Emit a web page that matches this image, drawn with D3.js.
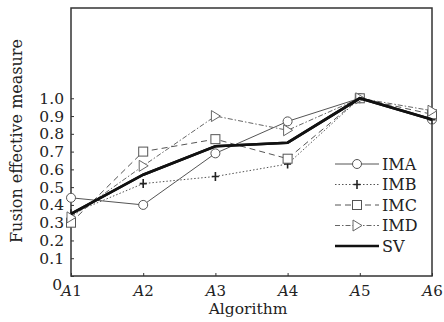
<!DOCTYPE html>
<html><head><meta charset="utf-8">
<script src="https://cdn.jsdelivr.net/npm/d3@7"></script>
<style>body{margin:0;background:#fff}svg{display:block}text{font-family:"DejaVu Serif","Liberation Serif",serif;fill:#222}</style>
</head><body><svg id="c" width="444" height="322"></svg>
<script>
const categories = ["1","2","3","4","5","6"];
const yTicks = [0,0.1,0.2,0.3,0.4,0.5,0.6,0.7,0.8,0.9,1.0];
const IMA = [0.44,0.40,0.69,0.87,1.00,0.88];
const IMB = [0.35,0.52,0.56,0.63,1.00,0.88];
const IMC = [0.30,0.70,0.77,0.66,1.00,0.91];
const IMD = [0.33,0.62,0.90,0.82,1.00,0.93];
const SV  = [0.35,0.57,0.73,0.75,1.00,0.88];
const seriesNames = ["IMA","IMB","IMC","IMD","SV"];

const svg = d3.select("#c");
const L=71,R=432,T=8,B=276;
const x = d3.scalePoint().domain(categories).range([L,R]);
const y = d3.scaleLinear().domain([0,1.508]).range([B,T]);

const styles = {
  IMA:{w:1,dash:null,color:"#555",marker:"circle"},
  IMB:{w:1,dash:"1.5,2",color:"#555",marker:"plus"},
  IMC:{w:1,dash:"6,4",color:"#555",marker:"square"},
  IMD:{w:1,dash:"5,2,1.5,2",color:"#666",marker:"tri"},
  SV:{w:2.6,dash:null,color:"#111",marker:null}
};
const data = {IMA,IMB,IMC,IMD,SV};

svg.append("rect").attr("x",L).attr("y",T).attr("width",R-L).attr("height",B-T)
  .attr("fill","none").attr("stroke","#333").attr("stroke-width",1.5);

const yAxis = d3.axisLeft(y).tickValues(yTicks).tickSize(-3).tickPadding(7)
  .tickFormat(d=>d===0?"0":d3.format(".1f")(d));
const gy = svg.append("g").attr("transform",`translate(${L},0)`).call(yAxis);
gy.select(".domain").remove();
gy.selectAll("line").attr("stroke","#333");
gy.selectAll("text").style("font-size","15.5px").style("font-family","'DejaVu Serif',serif").attr("fill","#222");
gy.selectAll(".tick").filter(d=>d===0).select("text").attr("dy","0.9em").attr("x",-9);

const xAxis = d3.axisBottom(x).tickSize(-3).tickPadding(5).tickFormat("");
const gx = svg.append("g").attr("transform",`translate(0,${B})`).call(xAxis);
gx.select(".domain").remove();
gx.selectAll("line").attr("stroke","#333");
gx.selectAll(".tick").each(function(d){
  const t = d3.select(this).append("text").attr("y",20).attr("text-anchor","middle").style("font-size","15px").attr("fill","#222");
  t.append("tspan").style("font-style","italic").text("A");
  t.append("tspan").text(d);
});

svg.append("text").attr("x",248).attr("y",314).attr("text-anchor","middle").style("font-size","15.5px").text("Algorithm");
svg.append("text").attr("transform","translate(22,141) rotate(-90)").attr("text-anchor","middle").style("font-size","16px").text("Fusion effective measure");

function drawMarker(g,type,cx,cy,color){
  if(type==="circle") g.append("circle").attr("cx",cx).attr("cy",cy).attr("r",4.5).attr("fill","#fff").attr("stroke",color).attr("stroke-width",1);
  else if(type==="square") g.append("rect").attr("x",cx-4.5).attr("y",cy-4.5).attr("width",9).attr("height",9).attr("fill","#fff").attr("stroke",color).attr("stroke-width",1);
  else if(type==="tri") g.append("path").attr("d",`M${cx-4},${cy-5.5}L${cx+5},${cy}L${cx-4},${cy+5.5}Z`).attr("fill","#fff").attr("stroke",color).attr("stroke-width",1);
  else if(type==="plus") g.append("path").attr("d",`M${cx},${cy-4.5}L${cx},${cy+4.5}M${cx-3.5},${cy}L${cx+3.5},${cy}`).attr("stroke","#222").attr("stroke-width",1.6);
}

const line = d3.line().x((d,i)=>x(categories[i])).y(d=>y(d));
seriesNames.forEach(name=>{
  const s = styles[name];
  const g = svg.append("g");
  g.append("path").datum(data[name]).attr("d",line).attr("fill","none")
    .attr("stroke",s.color).attr("stroke-width",s.w).attr("stroke-dasharray",s.dash);
  if(s.marker) data[name].forEach((v,i)=>drawMarker(g,s.marker,x(categories[i]),y(v),s.color));
});
svg.append("path").datum(SV).attr("d",line).attr("fill","none").attr("stroke","#111").attr("stroke-width",2.6);

const lg = svg.append("g");
seriesNames.forEach((name,i)=>{
  const s = styles[name];
  const ly = 164 + i*20.5;
  lg.append("line").attr("x1",335).attr("x2",379).attr("y1",ly).attr("y2",ly)
    .attr("stroke",s.color).attr("stroke-width",s.w).attr("stroke-dasharray",s.dash);
  if(s.marker) drawMarker(lg,s.marker,357,ly,s.color);
  lg.append("text").attr("x",382).attr("y",ly+5.5).style("font-size","16px").text(name);
});
</script></body></html>
